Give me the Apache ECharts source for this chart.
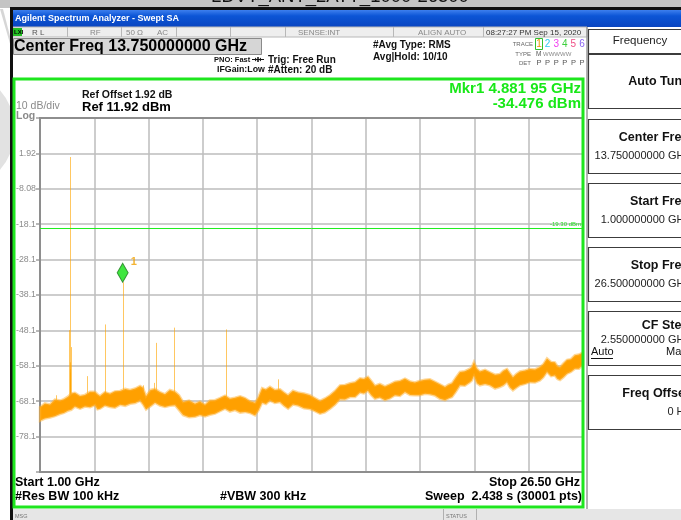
<!DOCTYPE html>
<html>
<head>
<meta charset="utf-8">
<title>Swept SA</title>
<script src="https://cdn.jsdelivr.net/npm/echarts@6/dist/echarts.min.js"></script>
<style>
  html, body { margin: 0; padding: 0; background: #ffffff; }
  #chart { width: 681px; height: 520px; }
</style>
</head>
<body>
<div id="chart"></div>
<script>
// Sweep settings
const START_GHZ = 1.0;
const STOP_GHZ = 26.5;
const REF_LEVEL = 11.92;      // dBm, top of the screen
const DB_PER_DIV = 10;
const DISPLAY_LINE = -19.30;  // dBm

// Marker 1
const MARKER_FREQ = 4.88195;  // GHz
const MARKER_LEVEL = -34.476; // dBm

// Noise floor of the averaged trace: frequency (GHz), upper and lower edge (dBm)
const FREQ = [1.00, 1.23, 1.47, 1.70, 1.94, 2.12, 2.31, 2.47, 2.64, 2.88,
  3.11, 3.35, 3.58, 3.70, 3.82, 4.05, 4.29, 4.52, 4.76, 5.00,
  5.23, 5.47, 5.70, 5.84, 5.98, 6.19, 6.40, 6.63, 6.87, 7.10,
  7.34, 7.53, 7.72, 8.00, 8.28, 8.51, 8.75, 8.98, 9.22, 9.45,
  9.69, 9.92, 10.16, 10.40, 10.63, 10.86, 11.10, 11.26, 11.43, 11.61,
  11.80, 12.03, 12.27, 12.46, 12.65, 12.88, 13.12, 13.40, 13.68, 13.91,
  14.15, 14.38, 14.62, 14.85, 15.09, 15.32, 15.56, 15.80, 16.03, 16.21,
  16.40, 16.56, 16.73, 16.96, 17.20, 17.43, 17.67, 17.90, 18.14, 18.38,
  18.61, 18.85, 19.08, 19.31, 19.55, 19.78, 20.02, 20.18, 20.35, 20.53,
  20.72, 20.95, 21.19, 21.28, 21.38, 21.52, 21.66, 21.90, 22.13, 22.37,
  22.60, 22.76, 22.93, 23.07, 23.21, 23.37, 23.54, 23.78, 24.01, 24.25,
  24.48, 24.64, 24.81, 25.00, 25.18, 25.30, 25.42, 25.58, 25.75, 25.93,
  26.12, 26.31, 26.50];
const NOISE_UPPER = [-69.8, -68.7, -69.0, -67.6, -67.9, -67.5, -66.8, -65.9, -65.7, -66.6,
  -66.3, -65.4, -65.4, -66.1, -66.6, -65.5, -66.0, -65.3, -65.2, -64.6,
  -64.9, -64.5, -63.8, -64.3, -66.7, -64.9, -64.6, -65.5, -66.1, -64.9,
  -65.4, -66.4, -68.3, -67.9, -68.8, -68.2, -69.1, -67.9, -67.8, -67.2,
  -66.5, -67.4, -67.1, -66.7, -67.2, -68.1, -68.5, -66.9, -64.4, -64.8,
  -64.0, -64.9, -64.7, -65.6, -66.4, -65.1, -65.6, -65.9, -66.4, -67.2,
  -68.0, -67.3, -66.4, -65.2, -63.6, -63.5, -63.0, -62.7, -61.6, -61.8,
  -61.2, -62.4, -63.7, -63.2, -63.9, -63.3, -62.6, -62.4, -61.7, -62.5,
  -62.8, -62.3, -62.0, -61.9, -62.6, -63.3, -64.1, -63.4, -63.0, -61.4,
  -59.8, -59.6, -58.9, -58.4, -57.0, -58.9, -59.7, -59.2, -59.9, -60.6,
  -60.4, -59.5, -59.0, -60.2, -61.3, -60.4, -59.7, -59.4, -59.0, -59.1,
  -58.4, -57.6, -56.0, -57.0, -57.1, -58.2, -58.5, -57.4, -56.4, -56.2,
  -55.1, -54.9, -54.3];
const NOISE_LOWER = [-73.6, -73.0, -72.7, -72.3, -71.7, -71.4, -70.8, -70.5, -69.6, -70.2,
  -69.6, -69.8, -69.2, -70.4, -70.2, -69.3, -69.7, -69.9, -69.1, -69.4,
  -68.8, -68.6, -67.9, -69.0, -70.4, -69.5, -68.5, -69.3, -69.7, -69.4,
  -69.2, -70.6, -72.0, -72.6, -72.5, -72.0, -72.4, -71.9, -71.6, -70.9,
  -70.2, -71.0, -70.6, -71.3, -71.1, -71.4, -72.1, -70.7, -68.5, -68.9,
  -67.9, -68.6, -68.3, -69.4, -70.2, -69.0, -69.3, -70.1, -70.3, -70.9,
  -71.6, -71.2, -70.2, -69.1, -67.5, -67.6, -66.9, -66.9, -65.6, -65.9,
  -65.1, -66.4, -67.4, -67.0, -67.8, -67.3, -66.4, -66.6, -65.5, -66.3,
  -66.4, -66.4, -66.0, -66.1, -66.5, -67.4, -67.8, -67.3, -66.9, -65.4,
  -63.6, -63.7, -62.7, -62.2, -60.9, -63.0, -63.6, -63.2, -63.6, -64.5,
  -64.1, -63.6, -62.7, -64.2, -65.0, -64.3, -63.6, -63.2, -62.7, -62.8,
  -62.2, -61.3, -59.8, -61.0, -60.8, -61.8, -62.1, -61.3, -60.3, -59.8,
  -58.9, -58.9, -57.8];

// Discrete spurs: frequency (GHz), peak (dBm), floor under the spur (dBm)
const SPUR_FREQ = [1.74, 2.38, 2.39, 2.40, 2.41, 2.42, 2.43, 2.46, 3.22, 4.05,
  MARKER_FREQ, 5.84, 6.35, 6.46, 7.29, 9.75, 12.18];
const SPUR_PEAK = [-66.4, -48.0, -59.0, 0.9, -62.0, -60.0, -57.1, -52.8, -61.0, -46.4,
  MARKER_LEVEL, -63.6, -62.9, -51.6, -47.3, -47.8, -61.9];
const SPUR_BASE = [-70.0, -68.9, -68.9, -68.9, -68.8, -68.7, -68.7, -68.5, -67.8, -68.0,
  -67.1, -66.0, -66.6, -66.6, -67.3, -68.3, -66.4];

// Graticule labels, bottom line to top line
const Y_TICK_LABELS = ['', '-78.1', '-68.1', '-58.1', '-48.1', '-38.1', '-28.1', '-18.1', '-8.08', '1.92', ''];

const FONT = '"Liberation Sans", Arial, sans-serif';
const NARROW = '"Liberation Sans Narrow", "Liberation Sans", Arial, sans-serif';
const GREEN = '#1ee61e';

function txt(x, y, s, size, fill, opts) {
  opts = opts || {};
  return {
    type: 'text', x: x, y: y, z: opts.z || 50, silent: true,
    style: {
      text: s,
      font: (opts.weight || 'normal') + ' ' + size + 'px ' + (opts.family || FONT),
      fill: fill,
      textAlign: opts.align || 'left', align: opts.align || 'left',
      textVerticalAlign: 'middle', verticalAlign: 'middle'
    }
  };
}
function rect(x, y, w, h, fill, stroke, lw, z) {
  return { type: 'rect', silent: true, z: z || 1, shape: { x: x, y: y, width: w, height: h },
    style: { fill: fill, stroke: stroke || null, lineWidth: lw || 0 } };
}
function vline(x, y1, y2, stroke, lw, z) {
  return { type: 'line', silent: true, z: z || 2, shape: { x1: x, y1: y1, x2: x, y2: y2 },
    style: { stroke: stroke, lineWidth: lw || 1 } };
}
function hline(y, x1, x2, stroke, lw, z) {
  return { type: 'line', silent: true, z: z || 2, shape: { x1: x1, y1: y, x2: x2, y2: y },
    style: { stroke: stroke, lineWidth: lw || 1 } };
}

const centerGHz = (START_GHZ + STOP_GHZ) / 2;
const stepGHz = (STOP_GHZ - START_GHZ) / 10;
const mkrFreqText = (function () {
  const s = MARKER_FREQ.toFixed(5);
  return s.slice(0, s.length - 2) + ' ' + s.slice(s.length - 2);
})();

const graphics = [];
// window chrome
graphics.push(rect(0, 0, 681, 8, '#c4c4c4'));
graphics.push(txt(340, -3, 'LDVT_ANT_2ATT_1000-26500', 18.5, '#111111', { align: 'center' }));
graphics.push({ type: 'circle', silent: true, z: 0, shape: { cx: -45, cy: 130, r: 60 }, style: { fill: '#e2e2e2' } });
graphics.push({ type: 'polygon', silent: true, z: 0, shape: { points: [[0, 9], [3, 9], [11, 40], [11, 47]] }, style: { fill: '#d6d6d6' } });
graphics.push(rect(10, 7, 671, 3, '#101010'));
graphics.push(vline(11.5, 7, 520, '#101010', 3));
graphics.push({
  type: 'rect', silent: true, z: 1, shape: { x: 13, y: 10, width: 668, height: 17 },
  style: { fill: new echarts.graphic.LinearGradient(0, 0, 0, 1, [
    { offset: 0, color: '#3d7fee' }, { offset: 0.35, color: '#0c55d6' }, { offset: 1, color: '#0a45c0' }]) }
});
graphics.push(txt(15, 18.5, 'Agilent Spectrum Analyzer - Swept SA', 9, '#ffffff', { weight: 'bold', family: NARROW }));

// status row
graphics.push(rect(13, 27, 574, 10, '#eeeeee', '#b8b8b8', 1));
[67, 121, 176, 230, 285, 393, 483].forEach(function (x) { graphics.push(vline(x + 0.5, 27, 37, '#b8b8b8', 1, 3)); });
graphics.push(rect(13, 28, 9, 8, '#22c022'));
graphics.push(txt(14, 32.5, 'LXI', 6, '#000000', { weight: 'bold', z: 60 }));
graphics.push(txt(32, 32.5, 'R L', 8, '#555555'));
graphics.push(txt(90, 32.5, 'RF', 8, '#888888'));
graphics.push(txt(126, 32.5, '50 Ω', 8, '#888888'));
graphics.push(txt(157, 32.5, 'AC', 8, '#888888'));
graphics.push(txt(298, 32.5, 'SENSE:INT', 8, '#888888'));
graphics.push(txt(418, 32.5, 'ALIGN AUTO', 8, '#888888'));
graphics.push(txt(486, 32.5, '08:27:27 PM Sep 15, 2020', 8, '#333333', { family: NARROW }));

// settings area
graphics.push(rect(13.5, 38.5, 248, 16, '#d6d6d6', '#8a8a8a', 1));
graphics.push(txt(14, 46.5, 'Center Freq ' + centerGHz.toFixed(9) + ' GHz', 16, '#000000', { weight: 'bold' }));
graphics.push(txt(214, 59.5, 'PNO: Fast', 7.5, '#111111', { weight: 'bold' }));
// fast-sweep symbol: arrows meeting at a bar
graphics.push(hline(59.5, 252, 264, '#111111', 1, 50));
graphics.push(vline(258, 57, 62, '#111111', 1.5, 50));
graphics.push({ type: 'polygon', silent: true, z: 50, shape: { points: [[255, 57.5], [257, 59.5], [255, 61.5]] }, style: { fill: '#111111' } });
graphics.push({ type: 'polygon', silent: true, z: 50, shape: { points: [[261, 57.5], [259, 59.5], [261, 61.5]] }, style: { fill: '#111111' } });
graphics.push(txt(217, 70, 'IFGain:Low', 8.8, '#111111', { weight: 'bold' }));
graphics.push(txt(268, 60, 'Trig: Free Run', 10, '#111111', { weight: 'bold' }));
graphics.push(txt(268, 70.5, '#Atten: 20 dB', 10, '#111111', { weight: 'bold' }));
graphics.push(txt(373, 45, '#Avg Type: RMS', 10, '#111111', { weight: 'bold' }));
graphics.push(txt(373, 57, 'Avg|Hold: 10/10', 10, '#111111', { weight: 'bold' }));
graphics.push(txt(533, 44, 'TRACE', 6, '#666666', { align: 'right' }));
graphics.push(rect(535.5, 38.5, 7, 11, null, '#30c030', 1, 3));
['#e89a00', '#2ec8f0', '#f040f0', '#3cd03c', '#f04f86', '#8862f2'].forEach(function (c, i) {
  graphics.push(txt(539 + i * 8.6, 44, String(i + 1), 10, c, { align: 'center' }));
});
graphics.push(txt(531, 54, 'TYPE', 6, '#666666', { align: 'right' }));
graphics.push(txt(536, 54, 'M', 6.5, '#555555'));
graphics.push(txt(543, 54, 'WWWWW', 6, '#888888', { family: NARROW }));
graphics.push(txt(531, 63, 'DET', 6, '#666666', { align: 'right' }));
['P', 'P', 'P', 'P', 'P', 'P'].forEach(function (p, i) {
  graphics.push(txt(539 + i * 8.6, 63, p, 7.5, '#555555', { align: 'center' }));
});

// measurement frame
graphics.push(rect(14, 79, 569, 428, null, GREEN, 3, 100));
graphics.push(txt(82, 95, 'Ref Offset 1.92 dB', 10.5, '#111111', { weight: 'bold' }));
graphics.push(txt(82, 107, 'Ref ' + REF_LEVEL.toFixed(2) + ' dBm', 13, '#000000', { weight: 'bold' }));
graphics.push(txt(16, 106, DB_PER_DIV + ' dB/div', 10.5, '#8a8a8a'));
graphics.push(txt(16, 116, 'Log', 10.5, '#8a8a8a', { weight: 'bold' }));
graphics.push(txt(581, 89, 'Mkr1 ' + mkrFreqText + ' GHz', 15, '#18e818', { weight: 'bold', align: 'right' }));
graphics.push(txt(581, 104, MARKER_LEVEL.toFixed(3) + ' dBm', 15, '#18e818', { weight: 'bold', align: 'right' }));
graphics.push(txt(15, 482.5, 'Start ' + START_GHZ.toFixed(2) + ' GHz', 12.5, '#000000', { weight: 'bold' }));
graphics.push(txt(15, 496.5, '#Res BW 100 kHz', 12.5, '#000000', { weight: 'bold' }));
graphics.push(txt(220, 496.5, '#VBW 300 kHz', 12.5, '#000000', { weight: 'bold' }));
graphics.push(txt(580, 482.5, 'Stop ' + STOP_GHZ.toFixed(2) + ' GHz', 12.5, '#000000', { weight: 'bold', align: 'right' }));
graphics.push(txt(582, 496.5, 'Sweep  2.438 s (30001 pts)', 12.5, '#000000', { weight: 'bold', align: 'right' }));

// message bar
graphics.push(rect(13, 509, 668, 11, '#e6e6e6'));
graphics.push(vline(443.5, 509, 520, '#b0b0b0', 1, 3));
graphics.push(vline(476.5, 509, 520, '#b0b0b0', 1, 3));
graphics.push(txt(15, 516, 'MSG', 5.5, '#777777'));
graphics.push(txt(446, 516, 'STATUS', 5.5, '#777777'));

// softkey panel
graphics.push(vline(587, 27, 509, '#9a9a9a', 1.5));
const keys = [
  { top: 29, h: 24, title: 'Frequency', plain: true },
  { top: 54, h: 54, title: 'Auto Tune' },
  { top: 119, h: 54, title: 'Center Freq', value: centerGHz.toFixed(9) + ' GHz' },
  { top: 183, h: 54, title: 'Start Freq', value: START_GHZ.toFixed(9) + ' GHz' },
  { top: 247, h: 54, title: 'Stop Freq', value: STOP_GHZ.toFixed(9) + ' GHz' },
  { top: 311, h: 54, title: 'CF Step', value: stepGHz.toFixed(9) + ' GHz', sub: true },
  { top: 375, h: 54, title: 'Freq Offset', value: '0 Hz' }
];
keys.forEach(function (k) {
  graphics.push(rect(588.5, k.top + 0.5, 130, k.h, '#ffffff', '#3c3c3c', 1.2, 2));
  if (k.plain) {
    graphics.push(txt(640, k.top + 12, k.title, 11.5, '#222222', { align: 'center' }));
    return;
  }
  let ty = k.top + 28;
  if (k.value) ty = k.sub ? k.top + 15 : k.top + 19;
  graphics.push(txt(689, ty, k.title, 12.5, '#111111', { weight: 'bold', align: 'right' }));
  if (k.value) graphics.push(txt(690, k.top + (k.sub ? 28.5 : 37), k.value, 11, '#222222', { align: 'right' }));
  if (k.sub) {
    graphics.push(txt(591, k.top + 41, 'Auto', 11, '#111111'));
    graphics.push(hline(k.top + 47.5, 591, 613, '#111111', 1, 60));
    graphics.push(txt(666, k.top + 41, 'Man', 11, '#111111'));
  }
});

const chart = echarts.init(document.getElementById('chart'), null, { renderer: 'canvas' });

const floor = FREQ.map(function (f, i) { return [f, NOISE_UPPER[i], NOISE_LOWER[i]]; });
const spurs = SPUR_FREQ.map(function (f, i) { return [f, SPUR_PEAK[i], SPUR_BASE[i]]; });

chart.setOption({
  animation: false,
  backgroundColor: '#ffffff',
  textStyle: { fontFamily: FONT },
  grid: {
    left: 40, top: 118, width: 543, height: 354,
    show: true, borderColor: '#8e8e8e', borderWidth: 2, backgroundColor: 'transparent', z: 1
  },
  xAxis: [
    { type: 'value', min: START_GHZ, max: STOP_GHZ, show: false },
    {
      type: 'value', min: 0, max: 10, interval: 1, gridIndex: 0,
      axisLine: { show: false }, axisTick: { show: false }, axisLabel: { show: false },
      splitLine: { show: true, lineStyle: { color: '#bdbdbd', width: 1.5 } }
    }
  ],
  yAxis: [
    { type: 'value', min: REF_LEVEL - 10 * DB_PER_DIV, max: REF_LEVEL, show: false },
    {
      type: 'value', min: 0, max: 10, interval: 1, position: 'left',
      axisLine: { show: false },
      axisTick: { show: true, length: 4, lineStyle: { color: '#a0a0a0', width: 1.5 } },
      axisLabel: {
        margin: 4, fontSize: 8.8, color: '#8c8c8c', fontFamily: FONT,
        formatter: function (v) { return Y_TICK_LABELS[Math.round(v)] || ''; }
      },
      splitLine: { show: true, lineStyle: { color: '#bdbdbd', width: 1.5 } }
    }
  ],
  graphic: { elements: graphics },
  series: [
    {
      type: 'custom', name: 'spurs', xAxisIndex: 0, yAxisIndex: 0, z: 2, silent: true,
      data: spurs, encode: { x: 0, y: [1, 2] },
      renderItem: function (params, api) {
        const top = api.coord([api.value(0), api.value(1)]);
        const bot = api.coord([api.value(0), api.value(2)]);
        const x = Math.round(top[0]) + 0.5;
        return { type: 'line', shape: { x1: x, y1: top[1], x2: x, y2: bot[1] },
          style: { stroke: 'rgba(255,165,0,0.62)', lineWidth: 1 } };
      }
    },
    {
      // averaged noise floor, drawn as the band between its upper and lower edge
      type: 'custom', name: 'trace', xAxisIndex: 0, yAxisIndex: 0, z: 3, silent: true,
      data: floor, encode: { x: 0, y: [1, 2] },
      renderItem: function (params, api) {
        if (params.dataIndex !== 0) return null;
        const up = floor.map(function (d) { return api.coord([d[0], d[1]]); });
        const lo = floor.map(function (d) { return api.coord([d[0], d[2]]); });
        const poly = up.concat(lo.slice().reverse());
        return {
          type: 'polygon', shape: { points: poly },
          style: { fill: '#ffa000', stroke: 'rgba(255,178,50,0.5)', lineWidth: 2.5 }
        };
      },
      markLine: {
        silent: true, symbol: 'none', animation: false,
        lineStyle: { color: '#22ee22', width: 1, type: 'solid' },
        label: { show: true, position: 'insideEndTop', formatter: DISPLAY_LINE.toFixed(2) + ' dBm',
          fontSize: 6, color: '#22dd22', distance: [2, 1] },
        data: [{ yAxis: DISPLAY_LINE }]
      }
    },
    {
      type: 'scatter', name: 'marker', xAxisIndex: 0, yAxisIndex: 0, z: 10, silent: true,
      data: [[MARKER_FREQ, MARKER_LEVEL]],
      symbol: 'diamond', symbolSize: [11, 19], symbolOffset: [0, '-50%'],
      itemStyle: { color: '#10e010', borderColor: '#1f7a1f', borderWidth: 1 },
      label: { show: true, formatter: '1', position: [14, -6], align: 'left', verticalAlign: 'top',
        color: '#f0a000', fontSize: 11, fontWeight: 'bold' }
    }
  ]
});
</script>
</body>
</html>
